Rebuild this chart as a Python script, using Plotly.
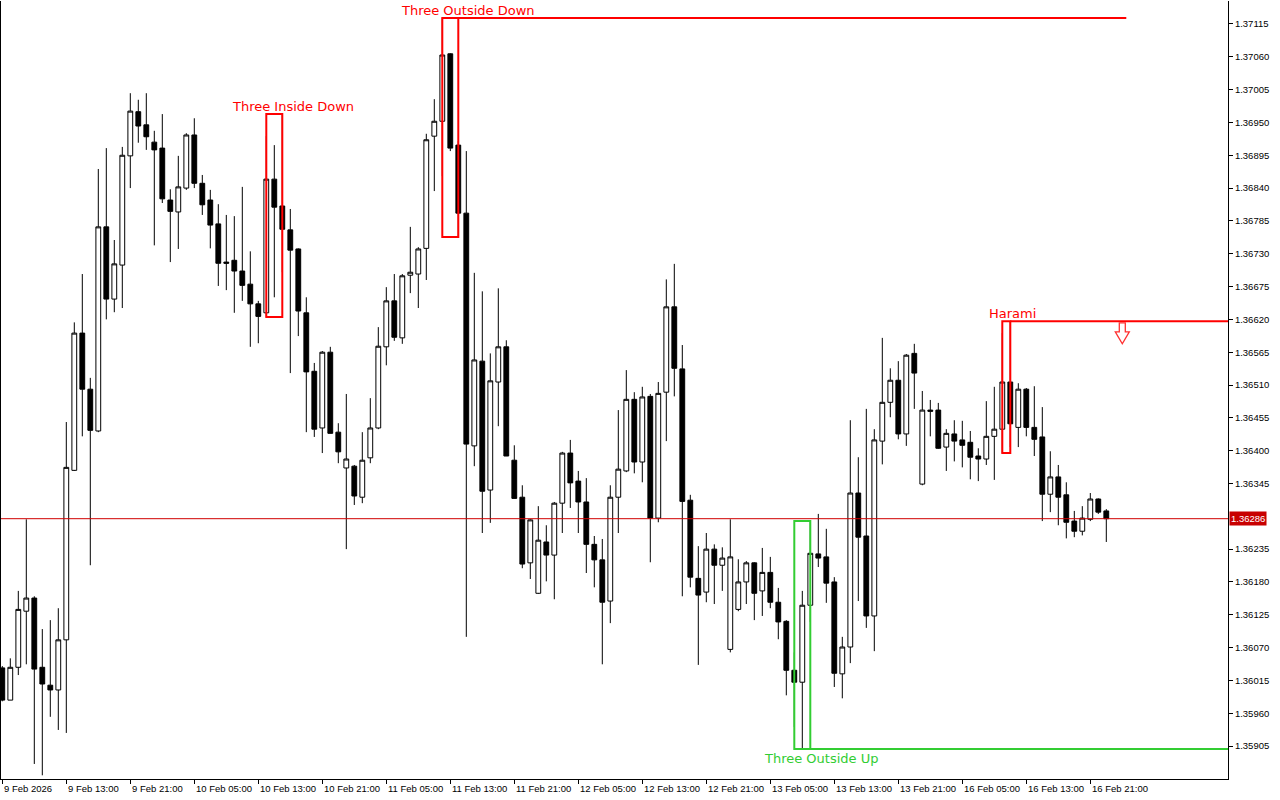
import plotly.graph_objects as go

# ---------------- data (EURUSD-like H1 candles, 9 Feb 05:00 .. 16 Feb 23:00) -------------
bar_index = list(range(139))

opens = [
    1.36036, 1.35982, 1.36037, 1.36131, 1.36153, 1.36037, 1.36007, 1.35999, 1.36083, 1.36367,
    1.36597, 1.36503, 1.36433, 1.36775, 1.36654, 1.36711, 1.36894, 1.36968, 1.36946, 1.36917,
    1.36907, 1.36820, 1.36800, 1.36840, 1.36929, 1.36848, 1.36820, 1.36780, 1.36716, 1.36719,
    1.36701, 1.36679, 1.36646, 1.36631, 1.36855, 1.36810, 1.36770, 1.36738, 1.36631, 1.36533,
    1.36438, 1.36565, 1.36431, 1.36371, 1.36374, 1.36322, 1.36388, 1.36438, 1.36574, 1.36651,
    1.36589, 1.36694, 1.36696, 1.36739, 1.36927, 1.36952, 1.37065, 1.36912, 1.36798, 1.36408,
    1.36550, 1.36334, 1.36515, 1.36574, 1.36384, 1.36322, 1.36212, 1.36161, 1.36247, 1.36225,
    1.36312, 1.36396, 1.36349, 1.36314, 1.36243, 1.36217, 1.36148, 1.36322, 1.36366, 1.36486,
    1.36381, 1.36491, 1.36287, 1.36498, 1.36641, 1.36537, 1.36317, 1.36186, 1.36163, 1.36235,
    1.36208, 1.36067, 1.36134, 1.36180, 1.36212, 1.36165, 1.36196, 1.36146, 1.36114, 1.36032,
    1.36012, 1.36141, 1.36227, 1.36222, 1.36180, 1.36026, 1.36071, 1.36329, 1.36257, 1.36123,
    1.36416, 1.36481, 1.36518, 1.36428, 1.36563, 1.36344, 1.36468, 1.36468, 1.36406, 1.36428,
    1.36418, 1.36414, 1.36391, 1.36386, 1.36424, 1.36436, 1.36515, 1.36439, 1.36503, 1.36439,
    1.36423, 1.36327, 1.36356, 1.36326, 1.36282, 1.36265, 1.36285, 1.36319, 1.36299,
]
highs = [
    1.36039, 1.36052, 1.36165, 1.36285, 1.36156, 1.36101, 1.36116, 1.36136, 1.36448, 1.36615,
    1.36696, 1.36522, 1.36872, 1.36907, 1.36753, 1.36909, 1.36999, 1.36988, 1.36999, 1.36936,
    1.36964, 1.36838, 1.36894, 1.36932, 1.36957, 1.36862, 1.36837, 1.36813, 1.36795, 1.36793,
    1.36842, 1.36734, 1.36651, 1.36927, 1.36912, 1.36964, 1.36805, 1.36739, 1.36657, 1.36547,
    1.36567, 1.36574, 1.36446, 1.36495, 1.36376, 1.36431, 1.36488, 1.36607, 1.36674, 1.36696,
    1.36696, 1.36775, 1.36741, 1.36931, 1.36989, 1.37125, 1.37066, 1.36919, 1.36902, 1.36698,
    1.36667, 1.36563, 1.36672, 1.36585, 1.36409, 1.36342, 1.36285, 1.36307, 1.36275, 1.36314,
    1.36398, 1.36418, 1.36366, 1.36354, 1.36257, 1.36252, 1.36342, 1.36468, 1.36535, 1.36498,
    1.36507, 1.36495, 1.36515, 1.36687, 1.36713, 1.36577, 1.36326, 1.36240, 1.36262, 1.36243,
    1.36238, 1.36285, 1.36218, 1.36215, 1.36213, 1.36237, 1.36222, 1.36170, 1.36116, 1.36062,
    1.36165, 1.36282, 1.36294, 1.36269, 1.36188, 1.36088, 1.36451, 1.36389, 1.36470, 1.36436,
    1.36589, 1.36538, 1.36550, 1.36562, 1.36579, 1.36500, 1.36485, 1.36480, 1.36436, 1.36451,
    1.36450, 1.36433, 1.36404, 1.36483, 1.36507, 1.36597, 1.36617, 1.36513, 1.36505, 1.36508,
    1.36473, 1.36399, 1.36376, 1.36347, 1.36299, 1.36307, 1.36329, 1.36320, 1.36302,
]
lows = [
    1.35980, 1.35982, 1.36024, 1.36042, 1.35875, 1.35856, 1.35954, 1.35932, 1.35927, 1.36366,
    1.36424, 1.36208, 1.36431, 1.36620, 1.36632, 1.36639, 1.36840, 1.36916, 1.36904, 1.36744,
    1.36815, 1.36716, 1.36738, 1.36837, 1.36840, 1.36795, 1.36739, 1.36676, 1.36669, 1.36631,
    1.36651, 1.36574, 1.36580, 1.36624, 1.36657, 1.36699, 1.36530, 1.36592, 1.36431, 1.36423,
    1.36396, 1.36429, 1.36379, 1.36235, 1.36309, 1.36312, 1.36379, 1.36436, 1.36543, 1.36584,
    1.36579, 1.36664, 1.36639, 1.36686, 1.36835, 1.36860, 1.36902, 1.36758, 1.36088, 1.36374,
    1.36262, 1.36279, 1.36441, 1.36391, 1.36320, 1.36203, 1.36185, 1.36160, 1.36181, 1.36151,
    1.36262, 1.36304, 1.36262, 1.36195, 1.36171, 1.36042, 1.36111, 1.36262, 1.36364, 1.36362,
    1.36347, 1.36213, 1.36280, 1.36416, 1.36491, 1.36156, 1.36171, 1.36041, 1.36146, 1.36143,
    1.36165, 1.36062, 1.36131, 1.36143, 1.36116, 1.36123, 1.36136, 1.36084, 1.35990, 1.35937,
    1.35900, 1.36113, 1.36205, 1.36145, 1.36004, 1.35985, 1.36044, 1.36148, 1.36103, 1.36064,
    1.36377, 1.36456, 1.36419, 1.36408, 1.36470, 1.36342, 1.36424, 1.36403, 1.36366, 1.36382,
    1.36372, 1.36352, 1.36349, 1.36376, 1.36351, 1.36396, 1.36406, 1.36406, 1.36424, 1.36391,
    1.36282, 1.36297, 1.36275, 1.36253, 1.36255, 1.36258, 1.36282, 1.36294, 1.36247,
]
closes = [
    1.35982, 1.36037, 1.36134, 1.36153, 1.36034, 1.36009, 1.35999, 1.36083, 1.36372, 1.36597,
    1.36503, 1.36434, 1.36775, 1.36654, 1.36713, 1.36895, 1.36969, 1.36944, 1.36926, 1.36904,
    1.36822, 1.36801, 1.36842, 1.36929, 1.36848, 1.36812, 1.36778, 1.36714, 1.36714, 1.36701,
    1.36677, 1.36646, 1.36625, 1.36855, 1.36808, 1.36771, 1.36736, 1.36634, 1.36532, 1.36436,
    1.36565, 1.36429, 1.36398, 1.36386, 1.36324, 1.36384, 1.36438, 1.36575, 1.36651, 1.36590,
    1.36693, 1.36699, 1.36738, 1.36921, 1.36952, 1.37063, 1.36907, 1.36798, 1.36411, 1.36552,
    1.36332, 1.36517, 1.36574, 1.36391, 1.36320, 1.36210, 1.36284, 1.36250, 1.36225, 1.36312,
    1.36396, 1.36346, 1.36314, 1.36243, 1.36217, 1.36146, 1.36322, 1.36369, 1.36486, 1.36381,
    1.36490, 1.36287, 1.36496, 1.36641, 1.36538, 1.36315, 1.36188, 1.36158, 1.36235, 1.36208,
    1.36220, 1.36222, 1.36180, 1.36212, 1.36161, 1.36196, 1.36146, 1.36113, 1.36032, 1.36012,
    1.36141, 1.36228, 1.36220, 1.36178, 1.36027, 1.36071, 1.36329, 1.36255, 1.36123, 1.36418,
    1.36481, 1.36518, 1.36428, 1.36560, 1.36530, 1.36468, 1.36466, 1.36404, 1.36429, 1.36416,
    1.36409, 1.36389, 1.36386, 1.36424, 1.36436, 1.36515, 1.36445, 1.36503, 1.36439, 1.36419,
    1.36327, 1.36356, 1.36322, 1.36280, 1.36265, 1.36287, 1.36319, 1.36297, 1.36286,
]

current_price = 1.36286

x_tick_bars = [0, 8, 16, 24, 32, 40, 48, 56, 64, 72, 80, 88, 96, 104, 112, 120, 128, 136]
x_tick_labels = ["9 Feb 2026", "9 Feb 13:00", "9 Feb 21:00", "10 Feb 05:00", "10 Feb 13:00",
                 "10 Feb 21:00", "11 Feb 05:00", "11 Feb 13:00", "11 Feb 21:00", "12 Feb 05:00",
                 "12 Feb 13:00", "12 Feb 21:00", "13 Feb 05:00", "13 Feb 13:00", "13 Feb 21:00",
                 "16 Feb 05:00", "16 Feb 13:00", "16 Feb 21:00"]

y_tick_values = [1.35905, 1.35960, 1.36015, 1.36070, 1.36125, 1.36180, 1.36235,
                 1.36345, 1.36400, 1.36455, 1.36510, 1.36565, 1.36620, 1.36675, 1.36730,
                 1.36785, 1.36840, 1.36895, 1.36950, 1.37005, 1.37060, 1.37115]

# candlestick patterns
pattern_names = ["Three Inside Down", "Three Outside Down", "Harami", "Three Outside Up"]
pattern_first = [33, 55, 125, 99]
pattern_last = [35, 57, 126, 101]
pattern_colors = ["#FF0000", "#FF0000", "#FF0000", "#32CD32"]
pattern_label_x = [36.3, 58.2, 126.3, 102.3]
pattern_label_side = ["top", "top", "top", "bottom"]
pattern_level = [None, "high", "high", "low"]
pattern_level_end = [None, 140.5, "edge", "edge"]

signal_arrow_bar = 140
signal_arrow_top = 1.36614
signal_arrow_neck = 1.36599
signal_arrow_tip = 1.36579

# ---------------- layout constants -------------
X_MIN, X_MAX = -0.1625, 153.2125
Y_MIN, Y_MAX = 1.358498, 1.371535
AXIS_FONT = dict(family="Liberation Sans", size=9.5, color="black")
LABEL_FONT_FAMILY = "DejaVu Sans"

fig = go.Figure()
fig.add_trace(go.Candlestick(
    x=bar_index, open=opens, high=highs, low=lows, close=closes,
    increasing=dict(line=dict(color="black", width=1), fillcolor="white"),
    decreasing=dict(line=dict(color="black", width=1), fillcolor="black"),
    whiskerwidth=0, showlegend=False, hoverinfo="skip",
))

shapes = []
annotations = []

# current price line
shapes.append(dict(type="line", xref="paper", x0=0, x1=1, yref="y", y0=current_price, y1=current_price,
                   line=dict(color="#D00000", width=1), layer="above"))

for name, a, b, col, lx, side, lvl, lend in zip(pattern_names, pattern_first, pattern_last, pattern_colors,
                                                pattern_label_x, pattern_label_side, pattern_level,
                                                pattern_level_end):
    hi = max(highs[a:b + 1])
    lo = min(lows[a:b + 1])
    shapes.append(dict(type="rect", xref="x", yref="y", x0=a, x1=b, y0=lo, y1=hi,
                       line=dict(color=col, width=2), fillcolor="rgba(0,0,0,0)", layer="above"))
    if lvl is not None:
        yv = hi if lvl == "high" else lo
        x_end = X_MAX if lend == "edge" else lend
        shapes.append(dict(type="line", xref="x", yref="y", x0=b, x1=x_end, y0=yv, y1=yv,
                           line=dict(color=col, width=2), layer="above"))
    if side == "top":
        annotations.append(dict(x=lx, y=hi, xref="x", yref="y", text=name, showarrow=False,
                                xanchor="center", yanchor="bottom", yshift=-2,
                                font=dict(family=LABEL_FONT_FAMILY, size=13, color=col)))
    else:
        annotations.append(dict(x=lx, y=lo, xref="x", yref="y", text=name, showarrow=False,
                                xanchor="center", yanchor="top", yshift=0,
                                font=dict(family=LABEL_FONT_FAMILY, size=13, color=col)))

# sell signal arrow
b = signal_arrow_bar
path = (f"M {b-0.375} {signal_arrow_top} L {b+0.375} {signal_arrow_top} L {b+0.375} {signal_arrow_neck} "
        f"L {b+0.875} {signal_arrow_neck} L {b} {signal_arrow_tip} L {b-0.875} {signal_arrow_neck} "
        f"L {b-0.375} {signal_arrow_neck} Z")
shapes.append(dict(type="path", xref="x", yref="y", path=path,
                   line=dict(color="#FF3030", width=1.3), fillcolor="white", layer="above"))

# x-axis labels, left-aligned at the tick
for bx, txt in zip(x_tick_bars, x_tick_labels):
    annotations.append(dict(x=bx, y=0, xref="x", yref="paper", text=txt, showarrow=False,
                            xanchor="left", yanchor="top", xshift=0, yshift=-2,
                            font=AXIS_FONT))

# current price tag
annotations.append(dict(x=1, y=current_price, xref="paper", yref="y", text=f"{current_price:.5f}",
                        showarrow=False, xanchor="left", yanchor="middle", xshift=1,
                        bgcolor="#C80000", borderpad=1,
                        font=dict(family="Liberation Sans", size=9.5, color="white")))

fig.update_layout(
    width=1280, height=800,
    margin=dict(l=1, r=52, t=1, b=21, pad=0),
    paper_bgcolor="white", plot_bgcolor="white",
    shapes=shapes, annotations=annotations,
    boxgap=0.25, boxgroupgap=0.2,
    hovermode=False,
    xaxis=dict(range=[X_MIN, X_MAX], showgrid=False, zeroline=False, rangeslider=dict(visible=False),
               showline=True, linecolor="black", linewidth=1, mirror=False,
               ticks="outside", ticklen=4, tickcolor="black", tickwidth=1,
               tickvals=x_tick_bars, showticklabels=False, fixedrange=True),
    yaxis=dict(range=[Y_MIN, Y_MAX], side="right", showgrid=False, zeroline=False,
               showline=True, linecolor="black", linewidth=1, mirror=True,
               ticks="outside", ticklen=4, tickcolor="black", tickwidth=1,
               tickvals=y_tick_values, tickformat=".5f", tickfont=AXIS_FONT, fixedrange=True,
               automargin=False),
)

fig.write_html("out.html", config={"displayModeBar": False},
               post_script="document.body.style.margin='0';document.body.style.overflow='hidden';")
